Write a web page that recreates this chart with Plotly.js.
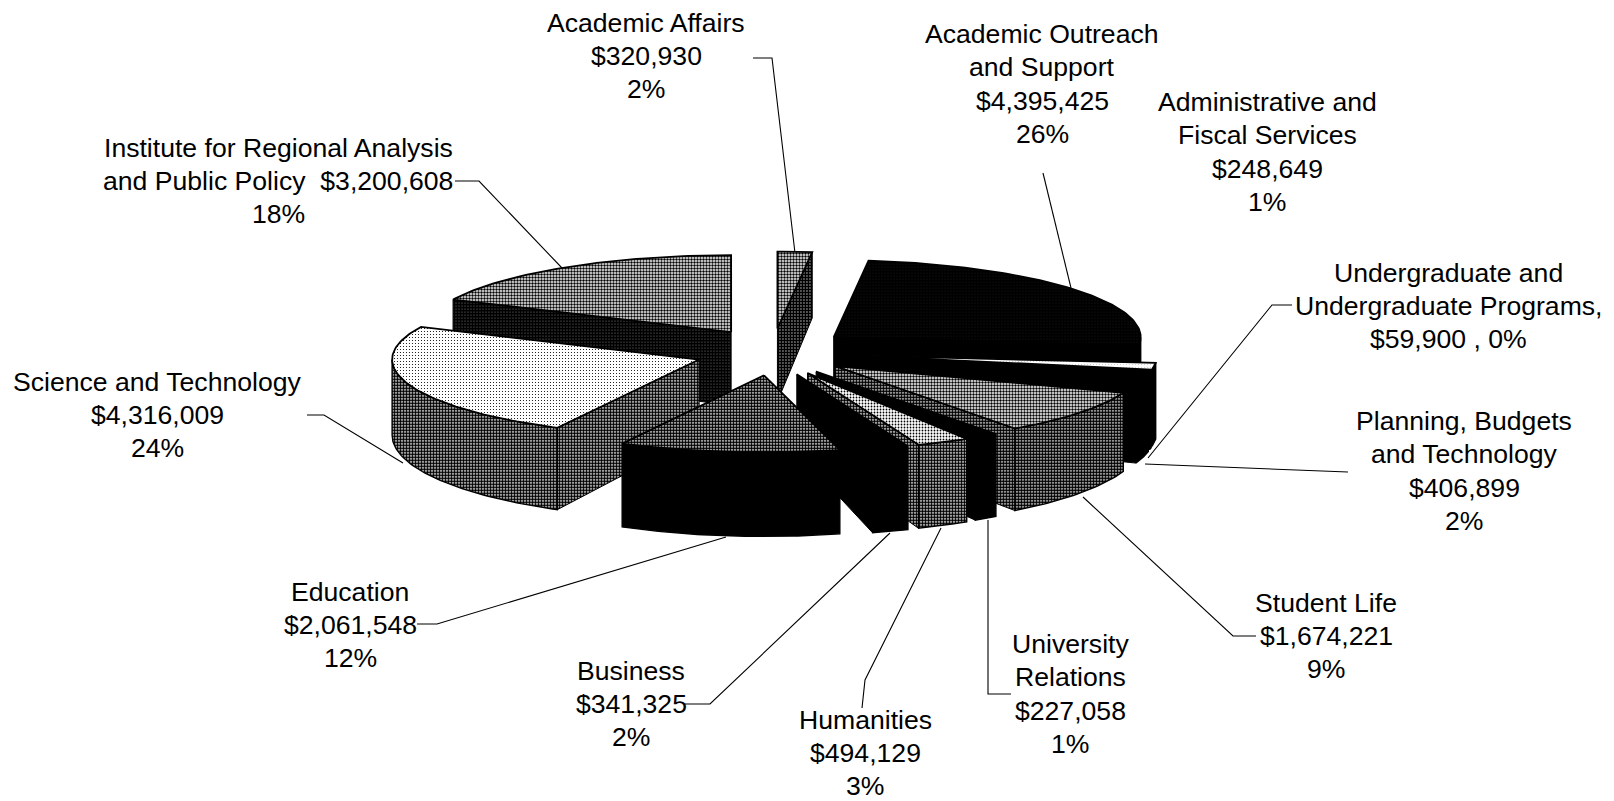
<!DOCTYPE html>
<html>
<head>
<meta charset="utf-8">
<script src="https://cdn.plot.ly/plotly-3.0.1.min.js"></script>
<style>html,body{margin:0;padding:0;background:#fff}#chart{width:1614px;height:801px}</style>
</head>
<body>
<div id="chart"></div>
<script>
// ---- data ----
const categories = ["Academic Affairs","Academic Outreach<br>and Support","Administrative and<br>Fiscal Services","Undergraduate and<br>Undergraduate Programs,","Planning, Budgets<br>and Technology","Student Life","University<br>Relations","Humanities","Business","Education","Science and Technology","Institute for Regional Analysis"];
const values = [320930,4395425,248649,59900,406899,1674221,227058,494129,341325,2061548,4316009,3200608];
const amountLabels = ["$320,930","$4,395,425","$248,649","$59,900 , 0%","$406,899","$1,674,221","$227,058","$494,129","$341,325","$2,061,548","$4,316,009","and Public Policy\u00a0\u00a0$3,200,608"];
const percentLabels = ["2%","26%","1%","","2%","9%","1%","3%","2%","12%","24%","18%"];

// ---- styling: share of black in the halftone of each slice ----
const topInk  = [0.52,0.90,0.02,0.95,0.95,0.50,1.00,0.28,0.95,0.72,0.12,0.52];
const sideInk = [0.80,1.00,1.00,1.00,1.00,0.78,1.00,0.68,1.00,1.00,0.70,0.88];
// painter's order, far to near
const drawOrder = [11,0,1,2,3,4,5,6,7,8,10,9];

// ---- label placement (page pixels) ----
const labelX = [646,1042,1267,1448,1464,1326,1070,865,631,350,157.5,278];
const labelY = [56,84,152,306,471,636,694,753,704,625,415,181];
const lineGap = 33.2;
const leaderX = [[753,772,795],[1043,1071],[],[1292,1272,1148],[1348,1145],[1256,1233,1083],[1011,988,988],[862,865,941],[685,710,890],[417,437,726],[307,324,403],[455,479,562]];
const leaderY = [[58,58,253],[173,288],[],[305,305,458],[472,464],[636,636,497],[694,694,520],[708,680,528],[704,704,533],[624,624,537],[415,415,463],[181,181,268]];

// ---- pie projection ----
const cx = 773, cy = 352, rx = 307, ry = 77, explodeX = 78, explodeY = 23.5;
const total = values.reduce((a,b)=>a+b,0);
const rad = d => d*Math.PI/180;
const depth = y => 75 + 7*(y-cy)/ry;

function fillFor(ink){
  if (ink >= 1) return {fillcolor:'#000'};
  return {fillcolor:'#fff', fillpattern:{shape:'.', size:3, solidity:ink, fgcolor:'#000', bgcolor:'#fff', fgopacity:1}};
}
function poly(pts, ink, lw){
  const xs = pts.map(p=>p[0]), ys = pts.map(p=>p[1]);
  xs.push(xs[0]); ys.push(ys[0]);
  return Object.assign({type:'scatter',mode:'lines',x:xs,y:ys,fill:'toself',
    line:{color:'#000',width:lw},hoverinfo:'skip',showlegend:false}, fillFor(ink));
}
function drop(pts){ return pts.slice().reverse().map(p=>[p[0],p[1]+depth(p[1])]); }

const starts = []; let running = 0;
values.forEach(v=>{ starts.push(running/total*360); running += v; });

const traces = [];
leaderX.forEach((xs,i)=>{
  if (xs.length) traces.push({type:'scatter',mode:'lines',x:xs,y:leaderY[i],
    line:{color:'#000',width:1.1},hoverinfo:'skip',showlegend:false});
});

drawOrder.forEach(i=>{
  const a = starts[i], b = a + values[i]/total*360, m = (a+b)/2;
  const ax = cx + explodeX*Math.sin(rad(m)), ay = cy - explodeY*Math.cos(rad(m));
  const pt = d => [ax + rx*Math.sin(rad(d)), ay - ry*Math.cos(rad(d))];
  const arc = (from,to) => { const o=[]; const n=Math.max(2,Math.ceil(to-from)); for(let k=0;k<=n;k++) o.push(pt(from+(to-from)*k/n)); return o; };
  const apex = [ax,ay];
  const fa = Math.max(a,90), fb = Math.min(b,270);
  if (Math.sin(rad(a)) < -0.001) { const e=[apex,pt(a)]; traces.push(poly(e.concat(drop(e)), sideInk[i], 1)); }
  if (Math.sin(rad(b)) > 0.001)  { const e=[apex,pt(b)]; traces.push(poly(e.concat(drop(e)), sideInk[i], 1)); }
  if (fb > fa) { const e=arc(fa,fb); traces.push(poly(e.concat(drop(e)), sideInk[i], 1.4)); }
  traces.push(poly([apex].concat(arc(a,b)), topInk[i], 1.8));
});

// every label line is placed on its own so the line spacing follows the picture
const annotations = [];
categories.forEach((c,i)=>{
  const lines = (c + '<br>' + amountLabels[i] + (percentLabels[i] ? '<br>' + percentLabels[i] : '')).split('<br>');
  lines.forEach((t,k)=>{
    annotations.push({x:labelX[i],y:labelY[i]+(k-(lines.length-1)/2)*lineGap,xref:'x',yref:'y',text:t,showarrow:false,
      xanchor:'center',yanchor:'middle',align:'center'});
  });
});

const layout = {
  width:1614,height:801,margin:{l:0,r:0,t:0,b:0},
  paper_bgcolor:'#fff',plot_bgcolor:'#fff',showlegend:false,
  font:{family:'"Liberation Sans",Arial,sans-serif',size:26.6,color:'#000'},
  xaxis:{range:[0,1614],visible:false,fixedrange:true},
  yaxis:{range:[801,0],visible:false,fixedrange:true},
  annotations:annotations
};
Plotly.newPlot('chart',traces,layout,{displayModeBar:false,staticPlot:true});
</script>
</body>
</html>
